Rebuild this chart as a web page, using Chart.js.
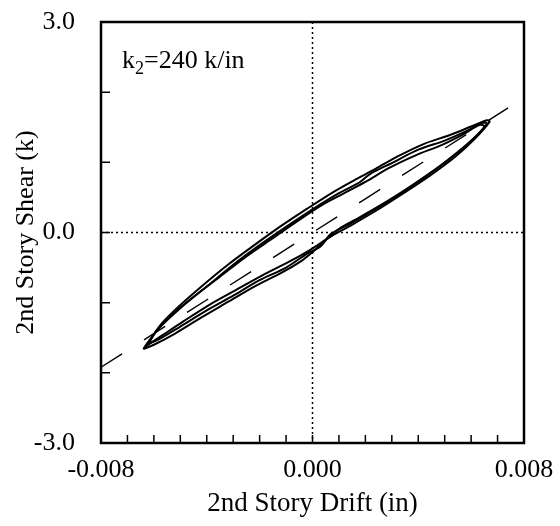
<!DOCTYPE html>
<html>
<head>
  <title>2nd Story Shear vs Drift</title>
<script src="https://cdn.jsdelivr.net/npm/chart.js"></script>
</head>
<style>
body {
  margin: 0;
  background: #fff;
}
#chart-container {
  width: 560px;
  height: 526px;
}
</style>
<body>
<div id="chart-container">
  <canvas id="chart"></canvas>
</div>
</body>
<script>
// recorded cycles: drift (in) and shear (k)
const drift1 = [-0.0063, -0.0058, -0.0050, -0.0040, -0.0030, -0.0020, -0.0010, -0.0002, 0.0003, 0.0007, 0.0015, 0.0025, 0.0035, 0.0045, 0.0055, 0.0062, 0.0066,
                0.0064, 0.0058, 0.0050, 0.0040, 0.0030, 0.0022, 0.0018, 0.0010, 0.0000, -0.0010, -0.0020, -0.0030, -0.0040, -0.0050, -0.0057, -0.0062, -0.0064];
const shear1 = [-1.60, -1.52, -1.34, -1.11, -0.90, -0.68, -0.50, -0.30, -0.20, -0.02, 0.14, 0.36, 0.60, 0.86, 1.14, 1.38, 1.55,
                1.56, 1.44, 1.31, 1.18, 0.99, 0.84, 0.72, 0.56, 0.33, 0.08, -0.18, -0.46, -0.77, -1.07, -1.32, -1.55, -1.66];

const drift2 = [-0.0064, -0.0060, -0.0052, -0.0042, -0.0032, -0.0022, -0.0012, -0.0004, 0.0000, 0.0006, 0.0014, 0.0024, 0.0034, 0.0044, 0.0054, 0.0061, 0.0067,
                0.0066, 0.0060, 0.0052, 0.0042, 0.0032, 0.0024, 0.0016, 0.0008, -0.0002, -0.0012, -0.0022, -0.0032, -0.0042, -0.0051, -0.0058, -0.0062, -0.0063];
const shear2 = [-1.66, -1.60, -1.44, -1.21, -0.99, -0.77, -0.58, -0.40, -0.28, -0.08, 0.09, 0.31, 0.55, 0.80, 1.08, 1.32, 1.58,
                1.60, 1.51, 1.39, 1.26, 1.08, 0.91, 0.75, 0.58, 0.34, 0.09, -0.18, -0.46, -0.77, -1.07, -1.34, -1.58, -1.62];

const drift3 = [-0.0063, -0.0057, -0.0049, -0.0039, -0.0029, -0.0019, -0.0009, -0.0001, 0.0005, 0.0010, 0.0018, 0.0028, 0.0038, 0.0048, 0.0057, 0.0063, 0.0065,
                0.0063, 0.0057, 0.0049, 0.0039, 0.0029, 0.0020, 0.0012, 0.0004, -0.0005, -0.0015, -0.0025, -0.0035, -0.0045, -0.0053, -0.0059, -0.0062];
const shear3 = [-1.62, -1.47, -1.27, -1.03, -0.82, -0.61, -0.42, -0.25, -0.10, 0.05, 0.22, 0.44, 0.68, 0.94, 1.21, 1.41, 1.52,
                1.53, 1.40, 1.25, 1.10, 0.92, 0.72, 0.56, 0.40, 0.18, -0.08, -0.34, -0.63, -0.92, -1.18, -1.40, -1.57];

// story stiffness line
const stiffness = 240; // k/in
const stiffLineX = [-0.008, 0.0074];

const xTickLabels = [-0.008, 0.000, 0.008];
const yTickLabels = [-3.0, 0.0, 3.0];

const serif = "'Liberation Serif', 'Times New Roman', serif";

function toPoints(xs, ys) {
  return xs.map((x, i) => ({ x: x, y: ys[i] }));
}

function isLabelled(list, v) {
  return list.some(t => Math.abs(t - v) < 1e-9);
}

const loopStyle = {
  showLine: true,
  borderColor: '#000',
  borderWidth: 2,
  pointRadius: 0,
  tension: 0.3,
  fill: false
};

const data = {
  datasets: [
    Object.assign({ data: toPoints(drift1, shear1) }, loopStyle),
    Object.assign({ data: toPoints(drift2, shear2) }, loopStyle),
    Object.assign({ data: toPoints(drift3, shear3) }, loopStyle),
    {
      data: stiffLineX.map(x => ({ x: x, y: stiffness * x })),
      showLine: true,
      borderColor: '#000',
      borderWidth: 1.4,
      borderDash: [25, 26],
      pointRadius: 0
    }
  ]
};

// frame, inward ticks, zero lines and the stiffness note
const framePlugin = {
  id: 'frame',
  beforeDatasetsDraw(chart) {
    const { ctx, chartArea: a, scales: { x, y } } = chart;
    const x0 = x.getPixelForValue(0);
    const y0 = y.getPixelForValue(0);
    ctx.save();
    ctx.strokeStyle = '#000';
    ctx.lineWidth = 1.5;
    ctx.setLineDash([2, 3]);
    ctx.beginPath();
    ctx.moveTo(x0, a.top);
    ctx.lineTo(x0, a.bottom);
    ctx.moveTo(a.left, y0);
    ctx.lineTo(a.right, y0);
    ctx.stroke();
    ctx.restore();
  },
  afterDatasetsDraw(chart) {
    const { ctx, chartArea: a, scales: { x, y } } = chart;
    ctx.save();
    ctx.strokeStyle = '#000';
    ctx.lineWidth = 1.5;
    ctx.beginPath();
    x.ticks.forEach(t => {
      const px = x.getPixelForValue(t.value);
      ctx.moveTo(px, a.bottom);
      ctx.lineTo(px, a.bottom - 8);
    });
    y.ticks.forEach(t => {
      const py = y.getPixelForValue(t.value);
      ctx.moveTo(a.left, py);
      ctx.lineTo(a.left + 9, py);
    });
    ctx.stroke();

    ctx.lineWidth = 2.5;
    ctx.strokeRect(a.left, a.top, a.right - a.left, a.bottom - a.top);

    ctx.fillStyle = '#000';
    ctx.textBaseline = 'alphabetic';
    ctx.font = '26px ' + serif;
    let tx = a.left + 21;
    const ty = a.top + 46;
    ctx.fillText('k', tx, ty);
    tx += ctx.measureText('k').width;
    ctx.font = '18px ' + serif;
    ctx.fillText('2', tx, ty + 6);
    tx += ctx.measureText('2').width;
    ctx.font = '26px ' + serif;
    ctx.fillText('=240 k/in', tx, ty);
    ctx.restore();
  }
};

const chartEl = document.getElementById('chart');
const chart = new Chart(chartEl, {
  type: 'scatter',
  data: data,
  plugins: [framePlugin],
  options: {
    responsive: true,
    maintainAspectRatio: false,
    animation: false,
    layout: { padding: { left: 0, top: 22, right: 36, bottom: 0 } },
    plugins: {
      legend: { display: false },
      tooltip: { enabled: false }
    },
    scales: {
      x: {
        type: 'linear',
        min: -0.008,
        max: 0.008,
        grid: { display: false },
        border: { display: false },
        afterFit: s => {
          s.height = 83;
          s.paddingLeft = 0;
          s.paddingRight = 0;
        },
        ticks: {
          stepSize: 0.001,
          autoSkip: false,
          maxRotation: 0,
          padding: 4,
          color: '#000',
          font: { family: serif, size: 26 },
          callback: v => isLabelled(xTickLabels, v) ? v.toFixed(3) : ''
        },
        title: {
          display: true,
          text: '2nd Story Drift (in)',
          color: '#000',
          font: { family: serif, size: 27 },
          padding: { top: 0, bottom: 6 }
        }
      },
      y: {
        type: 'linear',
        min: -3,
        max: 3,
        grid: { display: false },
        border: { display: false },
        afterFit: s => {
          s.width = 101;
          s.paddingTop = 0;
          s.paddingBottom = 0;
        },
        ticks: {
          stepSize: 1,
          autoSkip: false,
          padding: 18,
          color: '#000',
          font: { family: serif, size: 26 },
          callback: v => isLabelled(yTickLabels, v) ? v.toFixed(1) : ''
        },
        title: {
          display: true,
          text: '2nd Story Shear (k)',
          color: '#000',
          font: { family: serif, size: 26 },
          padding: { top: 11, bottom: 0 }
        }
      }
    }
  }
});
</script>
</html>
